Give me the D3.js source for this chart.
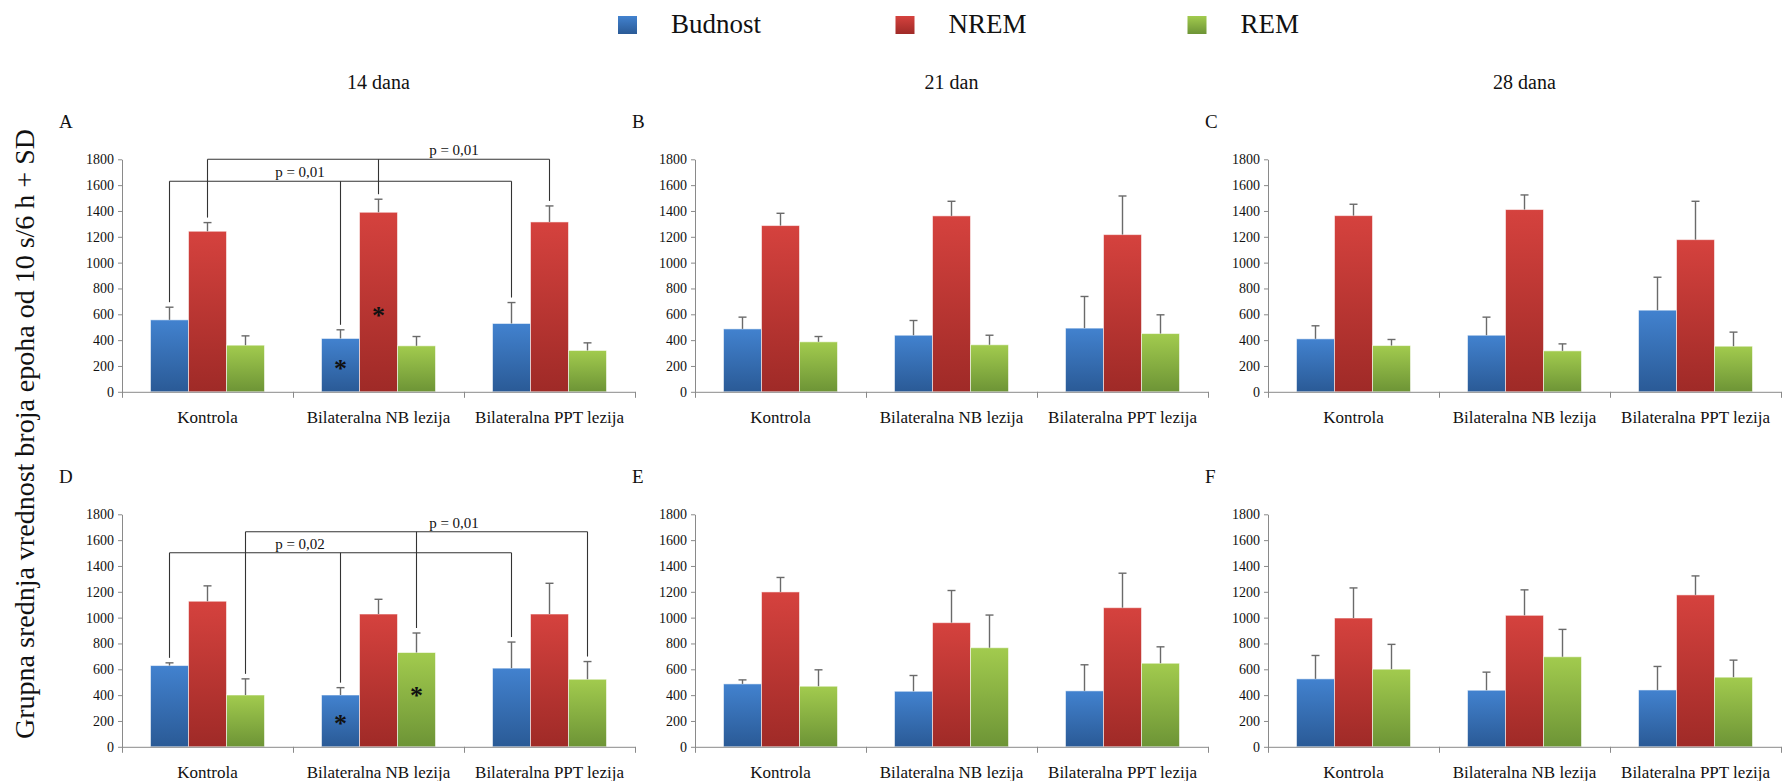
<!DOCTYPE html>
<html>
<head>
<meta charset="utf-8">
<script src="https://cdn.jsdelivr.net/npm/d3@7"></script>
<style>
  html, body { margin: 0; padding: 0; background: #fff; }
  svg text { font-family: "Liberation Serif", "Times New Roman", serif; fill: #111; }
</style>
</head>
<body>
<div class="chart"></div>
<script>
const width = 1782;
const height = 781;

const groups = ["Kontrola", "Bilateralna NB lezija", "Bilateralna PPT lezija"];
const stages = ["Budnost", "NREM", "REM"];
const periods = ["14 dana", "21 dan", "28 dana"];
const panelLetters = ["A", "B", "C", "D", "E", "F"];
const yTicks = [0, 200, 400, 600, 800, 1000, 1200, 1400, 1600, 1800];
const yTitle = "Grupna srednja vrednost broja epoha od 10 s/6 h + SD";

// means and SD, rows = groups, columns = stages (Budnost, NREM, REM)
const meanA = [[557, 1243, 361], [413, 1390, 356], [529, 1315, 320]];
const sdA   = [[98, 67, 72], [67, 101, 72], [162, 124, 59]];
const meanB = [[487, 1287, 387], [438, 1362, 364], [493, 1217, 451]];
const sdB   = [[91, 95, 41], [114, 113, 74], [245, 299, 145]];
const meanC = [[410, 1364, 358], [438, 1411, 317], [632, 1178, 353]];
const sdC   = [[101, 88, 47], [140, 113, 54], [255, 297, 109]];
const meanD = [[629, 1127, 401], [401, 1028, 730], [609, 1028, 523]];
const sdD   = [[21, 119, 125], [57, 114, 151], [202, 238, 137]];
const meanE = [[487, 1199, 469], [430, 961, 767], [433, 1077, 647]];
const sdE   = [[31, 112, 127], [122, 249, 253], [202, 267, 127]];
const meanF = [[526, 997, 601], [438, 1018, 697], [440, 1176, 539]];
const sdF   = [[181, 233, 192], [140, 197, 212], [182, 147, 132]];

// significance brackets (all three groups joined for one stage)
const bracketsA = [
  {stage: "Budnost", level: 1630, label: "p = 0,01"},
  {stage: "NREM", level: 1800, label: "p = 0,01"}
];
const bracketsD = [
  {stage: "Budnost", level: 1502, label: "p = 0,02"},
  {stage: "REM", level: 1665, label: "p = 0,01"}
];
const starsA = [
  {group: "Bilateralna NB lezija", stage: "Budnost", at: 209},
  {group: "Bilateralna NB lezija", stage: "NREM", at: 621}
];
const starsD = [
  {group: "Bilateralna NB lezija", stage: "Budnost", at: 210},
  {group: "Bilateralna NB lezija", stage: "REM", at: 422}
];

const colors = {
  Budnost: ["#4282cf", "#2a5a96"],
  NREM: ["#d5423e", "#9f2a27"],
  REM: ["#a2cb4e", "#6d9436"]
};

const serif = "'Liberation Serif', 'Times New Roman', serif";
const colX = [122, 695, 1268];   // y-axis position of each column
const rowTop = [159.3, 514.3];   // pixel of 1800 in each row
const plotW = 513;
const plotH = 232.5;

const svg = d3.select(".chart").append("svg")
  .attr("width", width)
  .attr("height", height)
  .attr("font-family", serif);

const defs = svg.append("defs");
stages.forEach((s, i) => {
  const g = defs.append("linearGradient")
    .attr("id", "grad" + i)
    .attr("x1", 0).attr("y1", 0).attr("x2", 0).attr("y2", 1);
  g.append("stop").attr("offset", "0%").attr("stop-color", colors[s][0]);
  g.append("stop").attr("offset", "100%").attr("stop-color", colors[s][1]);
});

// legend
const legend = svg.append("g").attr("transform", "translate(618,16)");
const legendSpacing = [0, 277.5, 569.5];
stages.forEach((s, i) => {
  const item = legend.append("g").attr("transform", `translate(${legendSpacing[i]},0)`);
  item.append("rect").attr("width", 19).attr("height", 18).attr("fill", `url(#grad${i})`);
  item.append("text").attr("x", 53).attr("y", 17).style("font-size", "27px").text(s);
});

// column titles
periods.forEach((p, i) => {
  svg.append("text")
    .attr("x", colX[i] + plotW / 2)
    .attr("y", 89)
    .attr("text-anchor", "middle")
    .style("font-size", "20px")
    .text(p);
});

// y-axis title
svg.append("text")
  .attr("transform", "translate(34,434) rotate(-90)")
  .attr("text-anchor", "middle")
  .style("font-size", "28px")
  .text(yTitle);

const panels = [
  {mean: meanA, sd: sdA, brackets: bracketsA, stars: starsA},
  {mean: meanB, sd: sdB, brackets: [], stars: []},
  {mean: meanC, sd: sdC, brackets: [], stars: []},
  {mean: meanD, sd: sdD, brackets: bracketsD, stars: starsD},
  {mean: meanE, sd: sdE, brackets: [], stars: []},
  {mean: meanF, sd: sdF, brackets: [], stars: []}
];

const render = (panel, idx) => {
  const col = idx % 3, row = Math.floor(idx / 3);
  const g = svg.append("g").attr("transform", `translate(${colX[col]},${rowTop[row]})`);

  const x = d3.scaleBand().domain(groups).range([0, plotW]);
  const bw = x.bandwidth();
  const xs = d3.scaleBand().domain(stages).range([bw / 6, bw * 5 / 6]);
  const y = d3.scaleLinear().domain([0, 1800]).range([plotH, 0]);
  const xb = d3.scaleLinear().domain([0, 3]).range([0, plotW]);

  // panel letter
  g.append("text").attr("x", -63).attr("y", -31).style("font-size", "19px").text(panelLetters[idx]);

  // y axis
  const yAxis = g.append("g")
    .call(d3.axisLeft(y).tickValues(yTicks).tickFormat(d3.format("d")).tickSize(4).tickSizeOuter(0))
    .attr("font-family", serif)
    .attr("font-size", 14);
  yAxis.select(".domain").attr("stroke", "#8a8a8a");
  yAxis.selectAll(".tick line").attr("stroke", "#8a8a8a");
  yAxis.selectAll(".tick text").attr("x", -8).attr("fill", "#111");

  // bars
  const rows = [];
  groups.forEach((gr, gi) => stages.forEach((st, si) => {
    rows.push({group: gr, stage: st, si, mean: panel.mean[gi][si], sd: panel.sd[gi][si]});
  }));

  g.selectAll("rect.bar").data(rows).enter().append("rect")
    .attr("class", "bar")
    .attr("x", d => x(d.group) + xs(d.stage))
    .attr("y", d => y(d.mean))
    .attr("width", xs.bandwidth())
    .attr("height", d => plotH - y(d.mean))
    .attr("fill", d => `url(#grad${d.si})`)
    .attr("stroke", "rgba(255,255,255,0.55)")
    .attr("stroke-width", 1);

  // error bars (+SD only)
  const err = g.selectAll("g.err").data(rows).enter().append("g").attr("class", "err")
    .attr("stroke", "#6a6a6a").attr("stroke-width", 1.4);
  const cx = d => x(d.group) + xs(d.stage) + xs.bandwidth() / 2;
  err.append("line")
    .attr("x1", cx).attr("x2", cx)
    .attr("y1", d => y(d.mean)).attr("y2", d => y(d.mean + d.sd));
  err.append("line")
    .attr("x1", d => cx(d) - 4).attr("x2", d => cx(d) + 4)
    .attr("y1", d => y(d.mean + d.sd)).attr("y2", d => y(d.mean + d.sd));

  // x axis: line, boundary ticks, labels
  const xAxis = g.append("g").attr("transform", `translate(0,${plotH})`)
    .call(d3.axisBottom(xb).tickValues([0, 1, 2, 3]).tickSize(6).tickSizeOuter(0).tickFormat(""));
  xAxis.select(".domain").attr("stroke", "#8a8a8a");
  xAxis.selectAll(".tick line").attr("stroke", "#8a8a8a");

  g.append("g").selectAll("text").data(groups).enter().append("text")
    .attr("x", d => x(d) + bw / 2)
    .attr("y", plotH + 31)
    .attr("text-anchor", "middle")
    .style("font-size", "17px")
    .text(d => d);

  // significance brackets
  panel.brackets.forEach((b, bi) => {
    const si = stages.indexOf(b.stage);
    const by = y(b.level);
    const bg = g.append("g").attr("stroke", "#333").attr("stroke-width", 1.1).attr("fill", "none");
    const legs = groups.map((gr, gi) => ({x: x(gr) + xs(b.stage) + xs.bandwidth() / 2,
      end: y(panel.mean[gi][si] + panel.sd[gi][si]) - 5}));
    bg.append("line").attr("x1", legs[0].x).attr("x2", legs[2].x).attr("y1", by).attr("y2", by);
    legs.forEach(l => bg.append("line").attr("x1", l.x).attr("x2", l.x).attr("y1", by).attr("y2", l.end));
    const lx = bi === 0 ? x(groups[1]) + 7 : x(groups[2]) - 10;
    g.append("text")
      .attr("x", lx).attr("y", by - 4)
      .attr("text-anchor", "middle")
      .style("font-size", "15px")
      .text(b.label);
  });

  // asterisks
  panel.stars.forEach(s => {
    g.append("text")
      .attr("x", x(s.group) + xs(s.stage) + xs.bandwidth() / 2)
      .attr("y", y(s.at) + 12)
      .attr("text-anchor", "middle")
      .style("font-size", "26px")
      .style("font-weight", "bold")
      .text("*");
  });
};

panels.forEach(render);
</script>
</body>
</html>
